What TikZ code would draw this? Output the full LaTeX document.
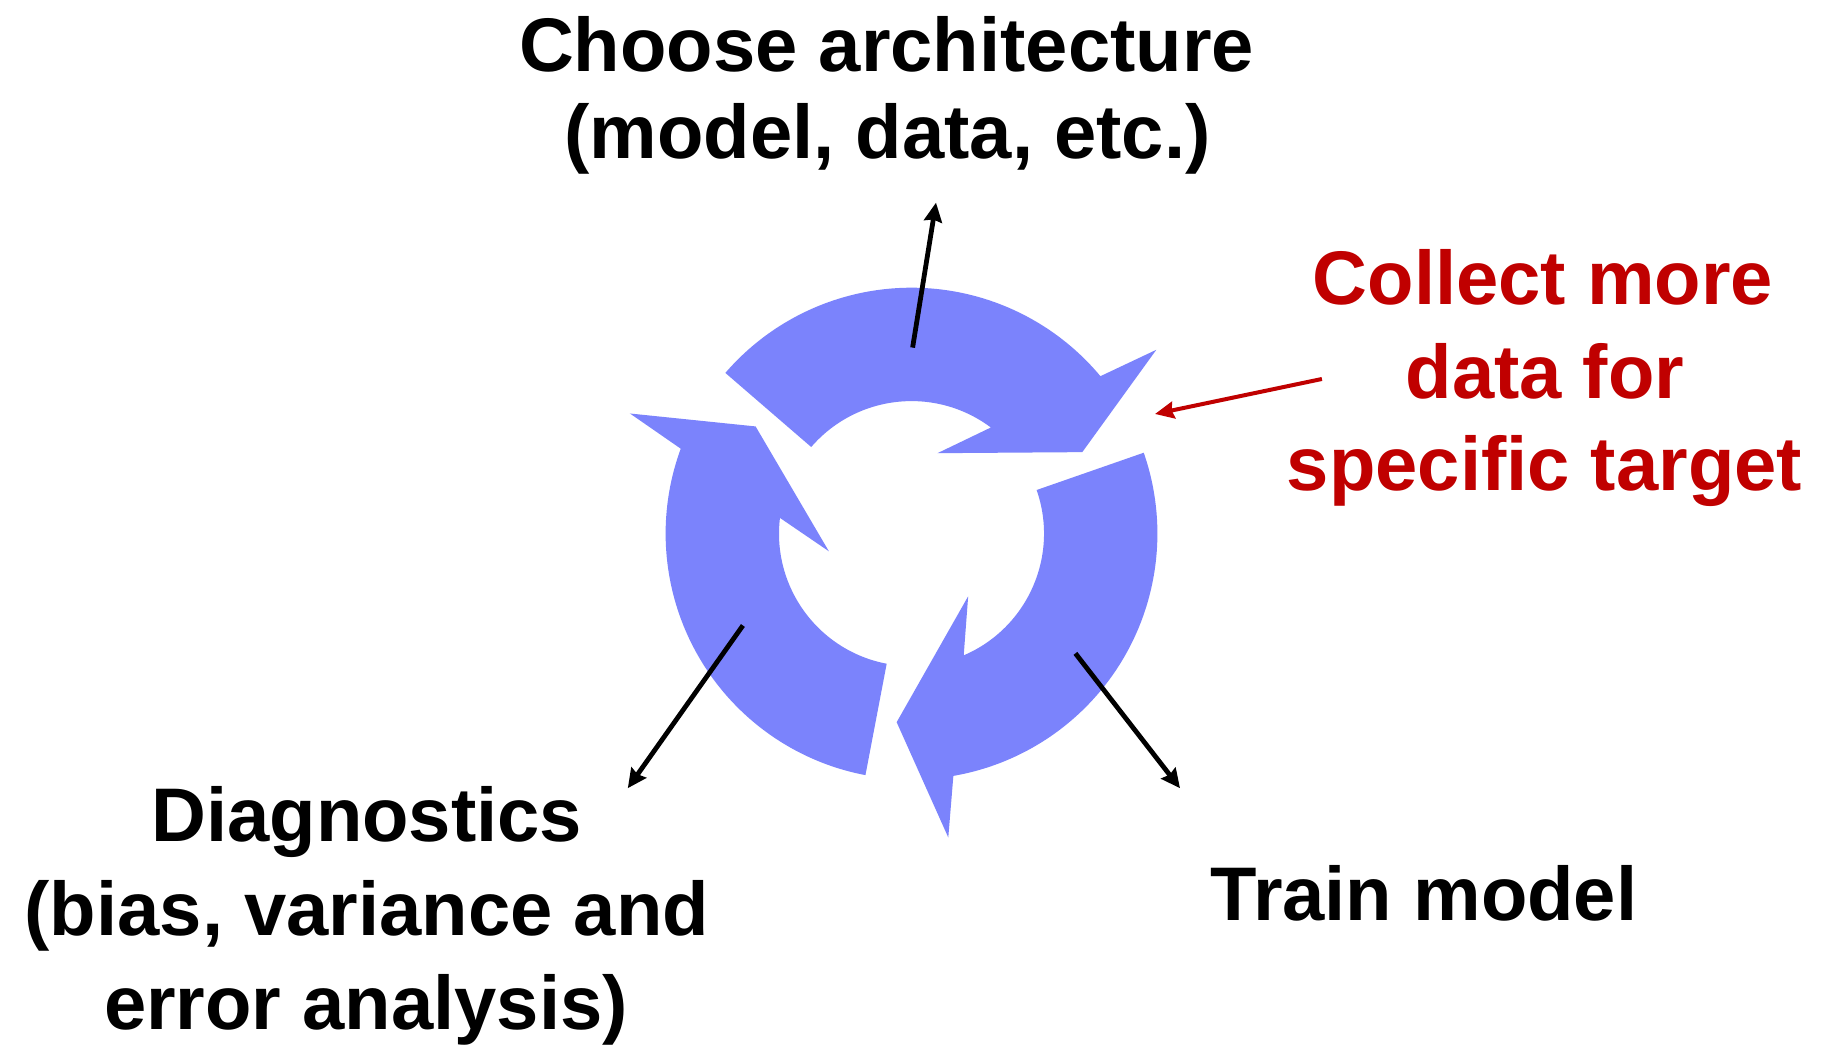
\documentclass[tikz,border=0pt]{standalone}
\usepackage{fontspec}
\setmainfont{Liberation Sans}
\usetikzlibrary{arrows.meta}
\definecolor{ringblue}{RGB}{123,131,252}
\definecolor{notered}{RGB}{192,0,0}
\begin{document}
\begin{tikzpicture}[x=0.5pt,y=0.5pt,
  txt/.style={font=\bfseries\fontsize{38}{45}\selectfont, anchor=base, inner sep=0pt},
  pointer/.style={line width=2.4pt, -{Stealth[length=9.5pt,width=9pt,inset=1pt]}},
  redpointer/.style={notered, line width=2pt, -{Stealth[length=9.5pt,width=8.5pt,inset=1pt]}}]
\useasboundingbox (0,0) rectangle (1823,1053);
\fill[white] (0,0) rectangle (1823,1053);

% three curved arrows forming a clockwise cycle
\coordinate (ctr) at (911.5,519.4);
\foreach \r in {0,-120,-240}{
  \fill[ringblue, shift={(ctr)}, rotate=\r]
    (139.2:245.9) arc[start angle=139.2, end angle=39.8, radius=245.9]
    -- (36.9:306.1) -- (25.5:189.2) -- (72.1:84.5)
    -- (53.2:132.5) arc[start angle=53.2, end angle=139.2, radius=132.5]
    -- cycle;
}

% labels
\node[txt] (choose1) at (886.5,981) {Choose architecture};
\node[txt] (choose2) at (887.6,894) {(model, data, etc.)};
\node[txt, notered] (collect1) at (1543,748.4) {Collect more};
\node[txt, notered] (collect2) at (1545,654.2) {data for};
\node[txt, notered] (collect3) at (1544.5,562.4) {specific target};
\node[txt] (diag1) at (366.8,211.3) {Diagnostics};
\node[txt] (diag2) at (366.8,117.1) {(bias, variance and};
\node[txt] (diag3) at (366,23) {error analysis)};
\node[txt] (train) at (1424,132.2) {Train model};

% pointers from the cycle to the labels
\coordinate (topA) at (912.6,705.4);
\coordinate (topB) at (936,850.3);
\coordinate (leftA) at (742.9,427.5);
\coordinate (leftB) at (627.8,264.8);
\coordinate (rightA) at (1075.4,399.6);
\coordinate (rightB) at (1180,264.8);
\coordinate (redA) at (1321.9,674);
\coordinate (redB) at (1155,639);
\draw[pointer] (topA) -- (topB);
\draw[pointer] (leftA) -- (leftB);
\draw[pointer] (rightA) -- (rightB);
\draw[redpointer] (redA) -- (redB);
\end{tikzpicture}
\end{document}
